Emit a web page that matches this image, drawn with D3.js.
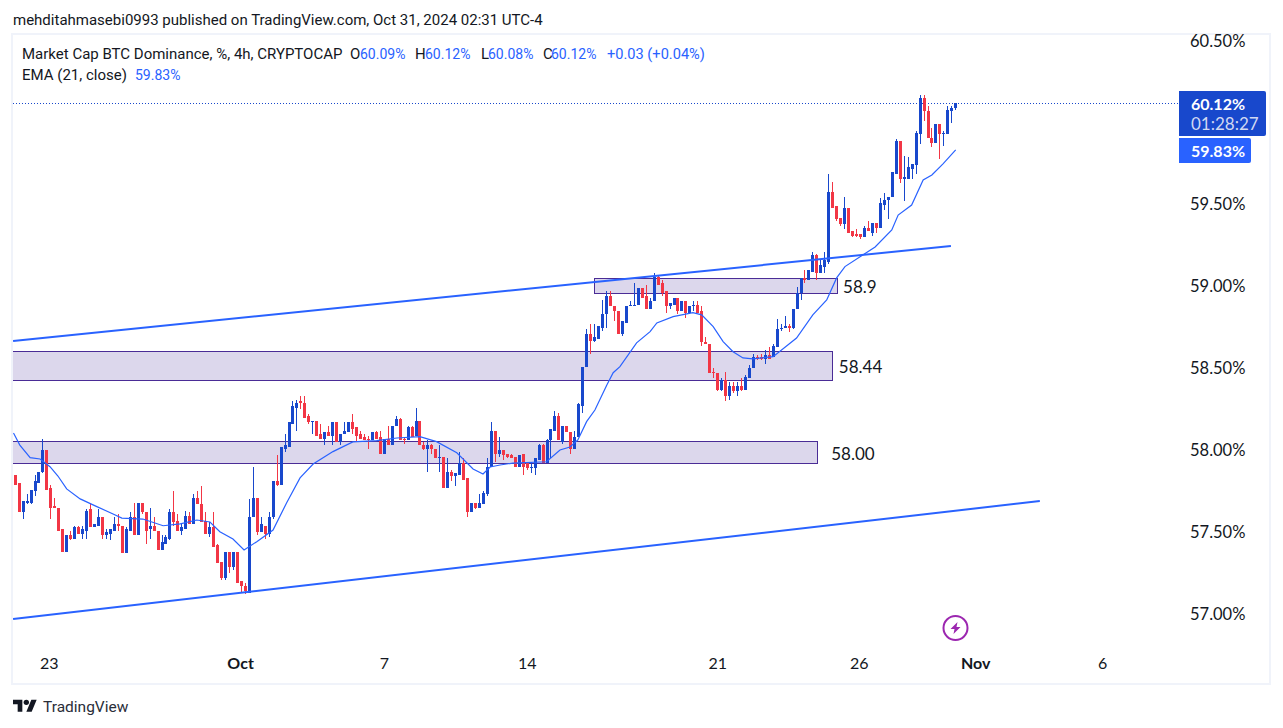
<!DOCTYPE html>
<html>
<head>
<meta charset="utf-8">
<style>
html,body{margin:0;padding:0;background:#fff;overflow:hidden}
svg{display:block}
text{font-family:Roboto,sans-serif}
</style>
<script src="https://cdnjs.cloudflare.com/ajax/libs/d3/7.9.0/d3.min.js"></script>
</head>
<body>
<svg id="c" width="1283" height="728"></svg>
<script>
const opens=[57.85,57.80,57.62,57.68,57.68,57.75,57.80,57.87,58.00,57.77,
57.66,57.65,57.52,57.38,57.48,57.46,57.53,57.49,57.51,57.64,
57.53,57.54,57.59,57.48,57.49,57.51,57.55,57.54,57.37,57.51,
57.59,57.48,57.68,57.62,57.52,57.54,57.51,57.39,57.43,57.46,
57.62,57.57,57.51,57.52,57.60,57.55,57.71,57.67,57.57,57.49,
57.53,57.42,57.32,57.22,57.38,57.29,57.38,57.20,57.17,57.13,
57.59,57.71,57.50,57.54,57.49,57.59,57.81,57.79,58.01,58.02,
58.16,58.26,58.30,58.29,58.21,58.17,58.18,58.10,58.07,58.11,
58.09,58.17,58.05,58.10,58.11,58.17,58.14,58.10,58.08,58.07,
58.06,58.11,58.08,57.98,58.07,58.03,58.15,58.19,58.07,58.06,
58.14,58.09,58.18,58.03,58.01,58.03,58.01,57.95,57.96,57.77,
57.87,57.84,57.85,57.92,57.83,57.62,57.68,57.65,57.67,57.73,
57.90,58.12,57.98,58.00,57.98,57.97,57.96,57.90,57.98,57.92,
57.89,57.89,57.94,58.03,57.92,58.06,58.12,58.21,58.05,58.15,
58.11,58.01,58.08,58.27,58.51,58.71,58.67,58.68,58.75,58.83,
58.94,58.88,58.85,58.71,58.78,58.88,58.89,58.89,58.99,58.94,
58.86,58.91,59.06,59.02,58.97,58.88,58.89,58.93,58.85,58.91,
58.84,58.88,58.89,58.85,58.66,58.65,58.48,58.47,58.37,58.43,
58.33,58.39,58.36,58.39,58.37,58.44,58.50,58.57,58.57,58.56,
58.58,58.57,58.63,58.74,58.75,58.76,58.75,58.86,58.96,59.05,
59.04,59.09,59.19,59.08,59.12,59.15,59.58,59.49,59.42,59.38,
59.48,59.34,59.32,59.32,59.30,59.36,59.33,59.39,59.36,59.50,
59.53,59.55,59.69,59.89,59.66,59.66,59.72,59.74,59.93,60.15,
60.07,59.91,59.88,59.99,59.93,59.93,60.07,60.09];
const highs=[57.85,57.80,57.69,57.73,57.76,57.85,57.87,58.07,58.00,57.79,
57.71,57.65,57.52,57.48,57.51,57.54,57.54,57.54,57.64,57.67,
57.55,57.64,57.59,57.52,57.52,57.59,57.61,57.54,57.53,57.62,
57.68,57.68,57.68,57.62,57.65,57.59,57.51,57.48,57.48,57.64,
57.75,57.61,57.55,57.63,57.62,57.73,57.75,57.78,57.62,57.56,
57.62,57.43,57.32,57.38,57.38,57.38,57.38,57.20,57.19,57.70,
57.90,57.71,57.59,57.54,57.62,57.81,57.97,58.02,58.10,58.17,
58.30,58.31,58.33,58.33,58.22,58.18,58.18,58.16,58.11,58.15,
58.17,58.17,58.10,58.17,58.17,58.22,58.14,58.12,58.10,58.09,
58.11,58.12,58.12,58.07,58.15,58.15,58.21,58.20,58.08,58.15,
58.15,58.26,58.18,58.05,58.06,58.04,58.01,58.03,57.96,57.95,
57.88,57.86,57.99,57.95,57.83,57.68,57.68,57.73,57.75,57.95,
58.17,58.12,58.08,58.00,57.98,57.98,57.96,57.97,57.98,57.92,
57.93,57.95,58.04,58.04,58.07,58.13,58.24,58.23,58.15,58.15,
58.11,58.12,58.29,58.51,58.74,58.77,58.77,58.76,58.92,58.97,
58.97,58.88,58.85,58.79,58.88,58.91,59.02,58.99,58.99,59.01,
58.93,59.08,59.07,59.04,58.97,58.90,58.93,58.93,58.91,58.91,
58.88,58.91,58.91,58.88,58.69,58.65,58.50,58.47,58.44,58.48,
58.42,58.42,58.42,58.44,58.46,58.52,58.59,58.58,58.59,58.61,
58.63,58.65,58.80,58.77,58.82,58.77,58.86,59.00,59.05,59.10,
59.10,59.21,59.20,59.16,59.21,59.69,59.64,59.49,59.42,59.55,
59.48,59.34,59.35,59.32,59.37,59.40,59.39,59.39,59.54,59.57,
59.55,59.70,59.90,59.89,59.80,59.79,59.75,59.95,60.17,60.17,
60.10,59.97,59.99,59.99,59.95,60.10,60.10,60.12];
const lows=[57.79,57.62,57.58,57.67,57.67,57.72,57.80,57.86,57.76,57.58,
57.65,57.51,57.38,57.38,57.45,57.46,57.49,57.46,57.46,57.53,
57.53,57.54,57.46,57.46,57.45,57.51,57.51,57.37,57.37,57.51,
57.48,57.48,57.61,57.43,57.46,57.51,57.39,57.39,57.43,57.45,
57.54,57.51,57.48,57.52,57.55,57.55,57.67,57.56,57.49,57.47,
57.41,57.31,57.21,57.21,57.25,57.27,57.19,57.13,57.12,57.13,
57.59,57.48,57.50,57.46,57.47,57.58,57.78,57.79,57.99,58.02,
58.16,58.12,58.25,58.20,58.16,58.10,58.09,58.07,58.03,58.09,
58.03,58.05,58.03,58.10,58.11,58.10,58.05,58.07,58.06,58.01,
58.06,58.07,57.98,57.98,58.03,58.03,58.15,58.06,58.04,58.06,
58.08,58.09,58.03,58.00,57.87,57.98,57.95,57.87,57.77,57.77,
57.81,57.78,57.85,57.82,57.59,57.62,57.64,57.65,57.67,57.72,
57.90,57.93,57.96,57.94,57.95,57.95,57.90,57.90,57.85,57.88,
57.86,57.85,57.94,57.92,57.92,57.95,58.12,58.06,58.04,58.11,
57.98,58.01,58.08,58.23,58.51,58.59,58.66,58.68,58.73,58.75,
58.88,58.79,58.71,58.70,58.78,58.88,58.89,58.89,58.93,58.86,
58.86,58.91,59.01,58.94,58.84,58.86,58.89,58.83,58.85,58.81,
58.83,58.85,58.84,58.64,58.65,58.47,58.44,58.36,58.36,58.30,
58.31,58.35,58.33,58.36,58.37,58.44,58.50,58.55,58.55,58.53,
58.56,58.57,58.63,58.73,58.75,58.72,58.74,58.86,58.92,59.02,
59.04,59.09,59.04,59.08,59.08,59.14,59.48,59.40,59.37,59.35,
59.33,59.30,59.30,59.29,59.30,59.34,59.31,59.33,59.36,59.47,
59.41,59.55,59.69,59.63,59.52,59.66,59.66,59.69,59.87,60.01,
59.91,59.85,59.88,59.78,59.86,59.93,60.00,60.08];
const closes=[57.79,57.62,57.69,57.69,57.76,57.81,57.87,58.00,57.76,57.65,
57.65,57.51,57.38,57.48,57.46,57.53,57.49,57.52,57.63,57.53,
57.55,57.59,57.48,57.50,57.52,57.55,57.54,57.37,57.52,57.59,
57.48,57.68,57.62,57.51,57.54,57.51,57.39,57.44,57.47,57.62,
57.56,57.51,57.53,57.60,57.55,57.71,57.67,57.56,57.49,57.53,
57.41,57.31,57.22,57.38,57.29,57.38,57.19,57.17,57.14,57.59,
57.71,57.50,57.55,57.49,57.59,57.81,57.79,58.02,58.03,58.17,
58.27,58.29,58.29,58.20,58.17,58.18,58.09,58.07,58.11,58.09,
58.17,58.05,58.10,58.12,58.17,58.13,58.09,58.07,58.06,58.06,
58.11,58.07,57.98,58.07,58.03,58.15,58.19,58.06,58.06,58.14,
58.08,58.18,58.03,58.01,58.03,58.01,57.95,57.96,57.77,57.87,
57.84,57.86,57.92,57.82,57.62,57.68,57.65,57.68,57.74,57.90,
58.12,57.98,58.00,57.97,57.96,57.95,57.90,57.97,57.90,57.89,
57.90,57.95,58.03,57.92,58.06,58.13,58.21,58.06,58.15,58.11,
58.01,58.08,58.28,58.51,58.71,58.67,58.69,58.76,58.83,58.94,
58.88,58.85,58.71,58.79,58.88,58.89,58.89,58.99,58.93,58.86,
58.91,59.06,59.01,58.96,58.88,58.90,58.93,58.85,58.91,58.84,
58.88,58.89,58.84,58.66,58.65,58.47,58.47,58.37,58.43,58.33,
58.39,58.36,58.39,58.37,58.45,58.50,58.57,58.56,58.56,58.58,
58.56,58.64,58.74,58.75,58.76,58.75,58.86,58.96,59.05,59.04,
59.10,59.19,59.08,59.13,59.16,59.58,59.48,59.41,59.38,59.48,
59.33,59.31,59.31,59.30,59.36,59.34,59.39,59.36,59.51,59.53,
59.55,59.70,59.89,59.66,59.67,59.73,59.75,59.94,60.15,60.07,
59.91,59.88,59.99,59.93,59.94,60.08,60.09,60.12];

// EMA (21, close) at these bars
const emaBars=[-0.3,1.3,3.9,6.4,8.9,10.9,13.1,16.5,20.7,24.8,27,32.3,37.4,41.7,45.9,49.2,51.7,55,57.8,61,65.1,68.5,71.9,75.2,80.2,85.2,91.2,96.3,102.1,106.3,111.4,115.5,118,119.8,122.3,125.5,134,137.4,139.9,141.9,144.1,146.2,149.2,150.8,152.5,156.7,160.1,161.8,165.9,170.9,173.1,176,178.5,181,183.5,186,191.1,197,201.1,204.6,207.1,209.2,216.8,221,222.6,226,228.9,231.1,233.9,237.1];
const emaValues=[58.106,58.032,57.955,57.947,57.900,57.843,57.764,57.703,57.656,57.611,57.586,57.580,57.539,57.550,57.574,57.562,57.503,57.458,57.391,57.442,57.513,57.678,57.831,57.916,57.992,58.051,58.059,58.075,58.083,58.053,57.985,57.886,57.855,57.898,57.910,57.922,57.930,58.002,58.020,58.063,58.175,58.246,58.399,58.474,58.511,58.656,58.725,58.778,58.816,58.841,58.827,58.755,58.664,58.602,58.564,58.558,58.572,58.686,58.827,58.918,59.053,59.122,59.242,59.346,59.437,59.498,59.651,59.682,59.749,59.835];

const priceTicks=[60.5,59.5,59,58.5,58,57.5,57];
const timeTickBars=[8.6,56.8,93,129,177,212.7,242,274];
const timeTickLabels=["23","Oct","7","14","21","26","Nov","6"];
const monthLabels=["Oct","Nov"];

const zoneFrom=[146,-5,-5];
const zoneTo=[207.2,205.9,202.2];
const zoneHigh=[59.053,58.607,58.057];
const zoneLow=[58.961,58.429,57.922];
const zoneLabels=["58.9","58.44","58.00"];

const trendFrom=[-0.4,-0.4];
const trendTo=[235.9,258.3];
const trendStart=[58.668,56.970];
const trendEnd=[59.248,57.690];

const legendName="Market Cap BTC Dominance, %, 4h, CRYPTOCAP";
const ohlcLetters=["O","H","L","C"];
const ohlcValues=["60.09%","60.12%","60.08%","60.12%"];
const lastPrice=60.12, emaLast=59.83;

const BLUE="#1848cc",RED="#f23645",LINE="#2962ff",INK="#131722";
const svg=d3.select("#c");
const x=d3.scaleLinear().domain([0,237]).range([14.67,955.3]);
const y=d3.scaleLinear().domain([57,60.5]).range([614,41]);

svg.append("rect").attr("x",12).attr("y",34).attr("width",1258).attr("height",650)
  .attr("fill","#fff").attr("stroke","#f0f3fa").attr("stroke-width",2);
svg.append("defs").append("clipPath").attr("id","plot").append("rect")
  .attr("x",13).attr("y",35).attr("width",1166).attr("height",620);
const plot=svg.append("g").attr("clip-path","url(#plot)");

// zones
const zones=zoneFrom.map((f,i)=>({f,t:zoneTo[i],h:zoneHigh[i],l:zoneLow[i],label:zoneLabels[i]}));
plot.selectAll("rect.zone").data(zones).join("rect").attr("class","zone")
  .attr("x",d=>Math.round(x(d.f))+.5).attr("y",d=>Math.round(y(d.h))+.5)
  .attr("width",d=>Math.round(x(d.t))-Math.round(x(d.f)))
  .attr("height",d=>Math.round(y(d.l))-Math.round(y(d.h)))
  .attr("fill","#dcd7ec").attr("stroke","#4a2c96").attr("stroke-width",1);

// last price line
plot.append("line").attr("x1",13).attr("x2",1179).attr("y1",Math.round(y(lastPrice))+.5).attr("y2",Math.round(y(lastPrice))+.5)
  .attr("stroke",BLUE).attr("stroke-dasharray","1 2");

// candles
const bars=opens.map((o,i)=>({i,o,h:highs[i],l:lows[i],c:closes[i]}));
const g=plot.append("g").attr("shape-rendering","crispEdges");
const col=d=>d.c>=d.o?BLUE:RED;
g.selectAll("rect.w").data(bars).join("rect").attr("class","w")
  .attr("x",d=>Math.round(x(d.i))).attr("width",1)
  .attr("y",d=>Math.round(y(d.h))).attr("height",d=>Math.max(1,Math.round(y(d.l))-Math.round(y(d.h))))
  .attr("fill",col);
g.selectAll("rect.b").data(bars).join("rect").attr("class","b")
  .attr("x",d=>Math.round(x(d.i))-1).attr("width",3)
  .attr("y",d=>Math.round(y(Math.max(d.o,d.c)))).attr("height",d=>Math.max(1,Math.round(y(Math.min(d.o,d.c)))-Math.round(y(Math.max(d.o,d.c)))))
  .attr("fill",col);

// EMA
plot.append("path").datum(emaBars.map((b,i)=>[b,emaValues[i]]))
  .attr("fill","none").attr("stroke",LINE).attr("stroke-width",1.2)
  .attr("d",d3.line().x(d=>x(d[0])).y(d=>y(d[1])));

// trendlines
plot.selectAll("line.tr").data(trendFrom.map((f,i)=>({f,t:trendTo[i],a:trendStart[i],b:trendEnd[i]}))).join("line").attr("class","tr")
  .attr("x1",d=>x(d.f)).attr("x2",d=>x(d.t)).attr("y1",d=>y(d.a)).attr("y2",d=>y(d.b))
  .attr("stroke",LINE).attr("stroke-width",2);

// zone labels
svg.selectAll("text.zl").data(zones).join("text").attr("class","zl")
  .attr("x",d=>x(d.t)+7+(d.label==="58.9"?-1:0)+(d.label==="58.00"?7:0)).attr("y",d=>y((d.h+d.l)/2)+2).attr("dy",".35em")
  .attr("font-size",17).attr("fill",INK).style("font-family","Lato").text(d=>d.label);

// axes
const ya=svg.append("g").attr("transform","translate(1190,0)")
  .call(d3.axisRight(y).tickValues(priceTicks).tickSize(0).tickPadding(0).tickFormat(d=>d3.format(".2f")(d)+"%"));
ya.select(".domain").remove();
ya.selectAll("text").attr("font-size",16.5).attr("fill",INK).style("font-family","Lato");
const xa=svg.append("g").attr("transform","translate(0,656)")
  .call(d3.axisBottom(x).tickValues(timeTickBars).tickSize(0).tickPadding(2).tickFormat((d,i)=>timeTickLabels[i]));
xa.select(".domain").remove();
xa.selectAll("text").attr("font-size",16).attr("fill",INK).style("font-family","Lato")
  .attr("font-weight",(d,i)=>monthLabels.includes(timeTickLabels[i])?700:400);

// price tags
svg.append("path").attr("d","M1179 91H1264a2 2 0 0 1 2 2V134a2 2 0 0 1 -2 2H1179Z").attr("fill",BLUE);
svg.append("path").attr("d","M1179 138H1249a2 2 0 0 1 2 2V161a2 2 0 0 1 -2 2H1179Z").attr("fill",LINE);
const tag=(t,cy,c,w,fs)=>svg.append("text").attr("x",1191).attr("y",cy).attr("dy",".35em").attr("font-size",fs)
  .attr("font-weight",w||400).style("font-family","Lato").attr("fill",c).text(t);
tag(d3.format(".2f")(lastPrice)+"%",104,"#fff",700,16);
tag("01:28:27",124,"#d1d8f2",400,17);
tag(d3.format(".2f")(emaLast)+"%",151,"#fff",700,16);

// header and legend
const T=(s,px,py,c,fs)=>svg.append("text").attr("x",px).attr("y",py).attr("font-size",fs||15).attr("fill",c||INK).text(s);
T("mehditahmasebi0993 published on TradingView.com, Oct 31, 2024 02:31 UTC-4",13,25);
T(legendName,22,59);
[[350,360],[415,425],[481,488],[543,551]].forEach((p,i)=>{T(ohlcLetters[i],p[0],59);T(ohlcValues[i],p[1],59,LINE,14);});
T("+0.03 (+0.04%)",607,59,LINE,14.6);
T("EMA (21, close)",22,80);
T(d3.format(".2f")(emaLast)+"%",135,80,LINE,14);

// lightning marker
const bolt=svg.append("g").attr("transform","translate(955.5,628)");
bolt.append("circle").attr("r",12).attr("fill","#fff").attr("stroke","#9c27b0").attr("stroke-width",2);
bolt.append("path").attr("d","M2 -6L-5 1H-1L-2 6L5 -1H1Z").attr("fill","#9c27b0");

// brand
const logo=svg.append("g").attr("transform","translate(13,697) scale(.667)").attr("fill",INK);
logo.append("path").attr("d","M14 22H7V11H0V4h14v18zM28 22h-8l7.5-18h8L28 22z");
logo.append("circle").attr("cx",20).attr("cy",8).attr("r",4);
svg.append("text").attr("x",43).attr("y",712).attr("font-size",15.5).attr("fill","#2a2e39").text("TradingView");
</script>
</body>
</html>
